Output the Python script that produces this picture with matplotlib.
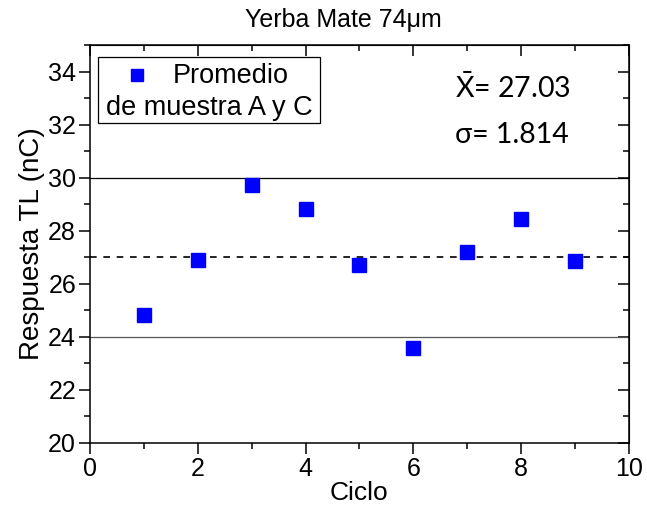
import matplotlib
matplotlib.use('Agg')
import matplotlib.pyplot as plt
from matplotlib.patches import Rectangle
from matplotlib.ticker import MultipleLocator

# data
ciclo = [1, 2, 3, 4, 5, 6, 7, 8, 9]
respuesta = [24.83, 26.89, 29.74, 28.83, 26.70, 23.57, 27.21, 28.45, 26.88]
media = 27.03
sigma = 1.814
limite_sup = 30
limite_inf = 24

plt.rcParams['font.family'] = ['Liberation Sans', 'DejaVu Sans']
plt.rcParams['mathtext.fontset'] = 'custom'
plt.rcParams['mathtext.rm'] = 'Lato'

fig = plt.figure(figsize=(6.47, 5.08), dpi=100)
ax = fig.add_axes([0.139, 0.128, 0.833, 0.783])

ax.axhline(limite_sup, color='black', lw=0.9, zorder=1)
ax.axhline(limite_inf, color='#555555', lw=0.9, zorder=1)
ax.axhline(media, color='black', lw=1.2, ls=(0, (4, 4)), zorder=1)
ax.plot(ciclo, respuesta, 's', color='#0000ff', ms=9.5, zorder=3)

ax.set_xlim(0, 10)
ax.set_ylim(20, 35)
ax.xaxis.set_major_locator(MultipleLocator(2))
ax.xaxis.set_minor_locator(MultipleLocator(1))
ax.yaxis.set_major_locator(MultipleLocator(2))
ax.yaxis.set_minor_locator(MultipleLocator(1))
ax.set_yticks([20, 22, 24, 26, 28, 30, 32, 34])
ax.tick_params(which='both', direction='out', labelsize=18, width=1.1, pad=2)
ax.tick_params(which='major', length=8)
ax.tick_params(which='minor', length=4)
for s in ax.spines.values():
    s.set_linewidth(1.1)

# mirrored ticks on top/right, pointing in
ax2 = ax.secondary_xaxis('top')
ax2.xaxis.set_major_locator(MultipleLocator(2))
ax2.xaxis.set_minor_locator(MultipleLocator(1))
ax2.tick_params(which='both', direction='in', labeltop=False, width=1.1)
ax2.tick_params(which='major', length=8)
ax2.tick_params(which='minor', length=4)
ay2 = ax.secondary_yaxis('right')
ay2.yaxis.set_major_locator(MultipleLocator(2))
ay2.yaxis.set_minor_locator(MultipleLocator(1))
ay2.tick_params(which='both', direction='in', labelright=False, width=1.1)
ay2.tick_params(which='major', length=8)
ay2.tick_params(which='minor', length=4)

ax.set_xlabel('Ciclo', fontsize=19, labelpad=0)
ax.set_ylabel('Respuesta TL (nC)', fontsize=20, labelpad=2)
ax.set_title('Yerba Mate 74\u03bcm', fontsize=18, pad=13, x=0.47)

# legend box
ax.add_patch(Rectangle((0.015, 0.804), 0.412, 0.166, transform=ax.transAxes,
                       fill=False, ec='black', lw=0.9, zorder=4))
ax.plot([0.087], [0.925], 's', color='#0000ff', ms=8, transform=ax.transAxes,
        clip_on=False, zorder=5)
ax.text(0.262, 0.922, 'Promedio', transform=ax.transAxes, fontsize=19.5,
        ha='center', va='center')
ax.text(0.222, 0.842, 'de muestra A y C', transform=ax.transAxes, fontsize=19.5,
        ha='center', va='center')

# statistics
ax.text(0.678, 0.892, r'$\bar{\mathrm{X}}$= %.2f' % media, transform=ax.transAxes,
        fontsize=20.5, ha='left', va='center', family=['Lato', 'DejaVu Sans'])
ax.text(0.678, 0.774, '\u03c3= %.3f' % sigma, transform=ax.transAxes,
        fontsize=20.5, ha='left', va='center', family=['Lato', 'DejaVu Sans'])

fig.savefig('out.png', dpi=100)
